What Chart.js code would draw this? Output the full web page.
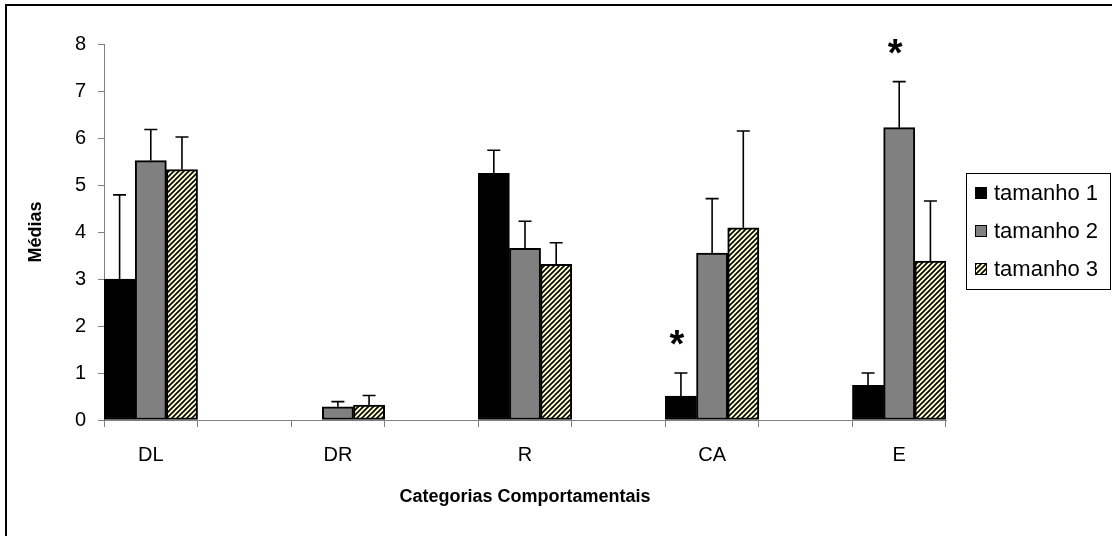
<!DOCTYPE html>
<html>
<head>
<meta charset="utf-8">
<script src="https://cdn.jsdelivr.net/npm/chart.js@4.4.0/dist/chart.umd.min.js"></script>
<style>
  html, body { margin: 0; padding: 0; background: #fff; overflow: hidden; }
</style>
</head>
<body>
<canvas id="chart" width="1112" height="536"></canvas>
<script>
// médias por categoria comportamental e tamanho
var categories = ['DL', 'DR', 'R', 'CA', 'E'];
var seriesNames = ['tamanho 1', 'tamanho 2', 'tamanho 3'];
var tamanho1 = [3.00, 0.00, 5.25, 0.51, 0.74];
var tamanho2 = [5.52, 0.28, 3.65, 3.55, 6.22];
var tamanho3 = [5.33, 0.32, 3.31, 4.09, 3.38];
// desvio (só a barra superior é desenhada)
var erro1 = [1.79, 0.00, 0.49, 0.49, 0.26];
var erro2 = [0.66, 0.11, 0.58, 1.16, 0.98];
var erro3 = [0.69, 0.20, 0.46, 2.06, 1.28];
var yTicks = [0, 1, 2, 3, 4, 5, 6, 7, 8];
// diferenças significativas
var asteriscos = [{ categoria: 'CA', serie: 0 }, { categoria: 'E', serie: 1 }];

var FONT = "'Liberation Sans', Arial, sans-serif";
Chart.defaults.font.family = FONT;
Chart.defaults.color = '#000';

// uma coluna vazia entre cada categoria
function spaced(arr, blank) {
  var out = [];
  arr.forEach(function (v, i) {
    if (i > 0) out.push(blank);
    out.push(v);
  });
  return out;
}

function hatch() {
  var c = document.createElement('canvas');
  c.width = 5; c.height = 5;
  var g = c.getContext('2d');
  g.fillStyle = '#ffffcc';
  g.fillRect(0, 0, 5, 5);
  g.strokeStyle = '#000';
  g.lineWidth = 1.6;
  g.beginPath();
  g.moveTo(-1, 6); g.lineTo(6, -1);
  g.moveTo(-3.5, 3.5); g.lineTo(3.5, -3.5);
  g.moveTo(1.5, 8.5); g.lineTo(8.5, 1.5);
  g.stroke();
  return g.createPattern(c, 'repeat');
}

var listrado = hatch();
var fills = ['#000000', '#808080', listrado];
var values = [tamanho1, tamanho2, tamanho3];
var errors = [erro1, erro2, erro3];

var frame = {
  id: 'frame',
  beforeDraw: function (chart) {
    var ctx = chart.ctx;
    ctx.save();
    ctx.fillStyle = '#fff';
    ctx.fillRect(0, 0, chart.width, chart.height);
    ctx.fillStyle = '#000';
    ctx.fillRect(5, 4, 2, chart.height);
    ctx.fillRect(5, 4, chart.width, 2);
    ctx.restore();
  }
};

var errorBars = {
  id: 'errorBars',
  afterDatasetsDraw: function (chart) {
    var ctx = chart.ctx;
    var y = chart.scales.y;
    ctx.save();
    ctx.strokeStyle = '#000';
    ctx.lineWidth = 1.6;
    chart.data.datasets.forEach(function (ds, d) {
      var meta = chart.getDatasetMeta(d);
      meta.data.forEach(function (bar, i) {
        var v = ds.data[i], e = ds.erro[i];
        if (v == null || !e) return;
        var top = y.getPixelForValue(v + e);
        ctx.beginPath();
        ctx.moveTo(bar.x, bar.y);
        ctx.lineTo(bar.x, top);
        ctx.moveTo(bar.x - 6.5, top);
        ctx.lineTo(bar.x + 6.5, top);
        ctx.stroke();
      });
    });
    ctx.restore();
  }
};

var stars = {
  id: 'stars',
  afterDatasetsDraw: function (chart) {
    var ctx = chart.ctx;
    var y = chart.scales.y;
    ctx.save();
    ctx.fillStyle = '#000';
    ctx.font = 'bold 38px ' + FONT;
    ctx.textAlign = 'center';
    ctx.textBaseline = 'middle';
    asteriscos.forEach(function (a) {
      var slot = categories.indexOf(a.categoria) * 2;
      var ds = chart.data.datasets[a.serie];
      var bar = chart.getDatasetMeta(a.serie).data[slot];
      var top = y.getPixelForValue(ds.data[slot] + ds.erro[slot]);
      ctx.fillText('*', bar.x - 4, top - 26);
    });
    ctx.restore();
  }
};

var legendBox = {
  id: 'legendBox',
  afterDraw: function (chart) {
    var ctx = chart.ctx;
    var x0 = 966, y0 = 173, w = 144, h = 116, row = 38;
    ctx.save();
    ctx.strokeStyle = '#000';
    ctx.lineWidth = 1;
    ctx.strokeRect(x0 + 0.5, y0 + 0.5, w, h);
    ctx.font = '22px ' + FONT;
    ctx.textBaseline = 'middle';
    ctx.textAlign = 'left';
    seriesNames.forEach(function (name, i) {
      var cy = y0 + 20 + i * row;
      ctx.fillStyle = fills[i];
      ctx.fillRect(975, cy - 6, 12, 12);
      ctx.strokeRect(975.5, cy - 5.5, 11, 11);
      ctx.fillStyle = '#000';
      ctx.fillText(name, 994, cy + 1);
    });
    ctx.restore();
  }
};

var datasets = seriesNames.map(function (name, i) {
  return {
    label: name,
    data: spaced(values[i], null),
    erro: spaced(errors[i], null),
    backgroundColor: fills[i],
    borderColor: '#000',
    borderWidth: 2,
    borderSkipped: false,
    categoryPercentage: 1,
    barPercentage: 1
  };
});

new Chart(document.getElementById('chart'), {
  type: 'bar',
  data: { labels: spaced(categories, ''), datasets: datasets },
  options: {
    responsive: false,
    animation: false,
    layout: { padding: { top: 44, right: 166, left: 0, bottom: 0 } },
    plugins: { legend: { display: false }, tooltip: { enabled: false } },
    scales: {
      x: {
        grid: { offset: true, drawOnChartArea: false, color: '#808080', tickLength: 7 },
        border: { color: '#808080' },
        ticks: { autoSkip: false, maxRotation: 0, padding: 16, font: { size: 20 } },
        title: {
          display: true,
          text: 'Categorias Comportamentais',
          font: { size: 18, weight: 'bold' },
          padding: { top: 0, bottom: 28 }
        },
        afterFit: function (s) { s.height = 116; }
      },
      y: {
        min: 0,
        max: 8,
        afterBuildTicks: function (s) { s.ticks = yTicks.map(function (v) { return { value: v }; }); },
        grid: { drawOnChartArea: false, color: '#808080', tickLength: 6 },
        border: { color: '#808080' },
        ticks: { padding: 12, font: { size: 20 } },
        title: {
          display: true,
          text: 'Médias',
          font: { size: 18, weight: 'bold' },
          padding: { top: 25, bottom: 0 }
        },
        afterFit: function (s) { s.width = 104; }
      }
    }
  },
  plugins: [frame, errorBars, stars, legendBox]
});
</script>
</body>
</html>
